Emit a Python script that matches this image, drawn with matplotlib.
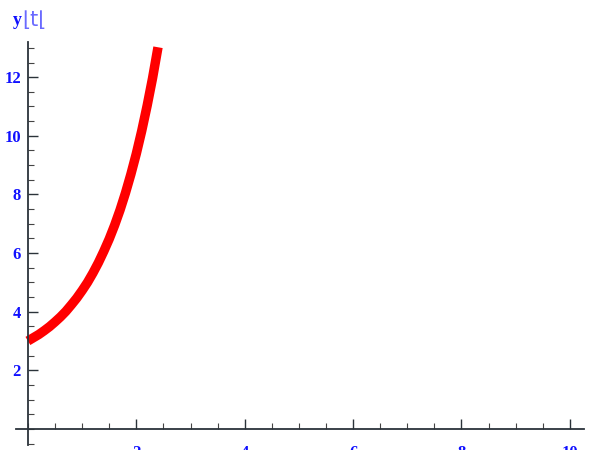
import matplotlib
matplotlib.use('Agg')
import matplotlib.pyplot as plt
from matplotlib.ticker import MultipleLocator, FixedLocator

# y[t] sampled along the solution, t = 0 .. 2.4
T_VALUES = [0.0, 0.1, 0.2, 0.3, 0.4, 0.5, 0.6, 0.7, 0.8, 0.9, 1.0, 1.1, 1.2,
            1.3, 1.4, 1.5, 1.6, 1.7, 1.8, 1.9, 2.0, 2.1, 2.2, 2.3, 2.4]
Y_VALUES = [3.00, 3.11, 3.22, 3.35, 3.49, 3.65, 3.82, 4.01, 4.23, 4.46, 4.72,
            5.00, 5.32, 5.67, 6.06, 6.48, 6.95, 7.47, 8.05, 8.69, 9.39, 10.17,
            11.03, 11.97, 13.02]
X_TICKS = [2, 4, 6, 8, 10]
Y_TICKS = [2, 4, 6, 8, 10, 12]

BLUE = '#1010ff'
AXIS = '#2b333a'

fig = plt.figure(figsize=(5.97, 4.5), dpi=100)
ax = fig.add_axes([0.0268, 0.0111, 0.9514, 0.8956])

ax.plot(T_VALUES, Y_VALUES, color='#ff0000', lw=6.8, solid_capstyle='butt')

ax.set_xlim(-0.22, 10.26)
ax.set_ylim(-0.55, 13.2)

# axes cross at the origin, no frame
for side in ('top', 'right'):
    ax.spines[side].set_visible(False)
ax.spines['left'].set_position(('data', 0))
ax.spines['bottom'].set_position(('data', 0))
for side in ('left', 'bottom'):
    ax.spines[side].set_color(AXIS)
    ax.spines[side].set_linewidth(1.3)

ax.xaxis.set_major_locator(FixedLocator(X_TICKS))
ax.yaxis.set_major_locator(FixedLocator(Y_TICKS))
ax.xaxis.set_minor_locator(MultipleLocator(0.5))
ax.yaxis.set_minor_locator(MultipleLocator(0.5))

ax.tick_params(axis='both', which='major', direction='in', length=7, width=1.0,
               color=AXIS, labelcolor=BLUE)
ax.tick_params(axis='both', which='minor', direction='in', length=4, width=0.8,
               color='#444444')
ax.tick_params(axis='x', which='major', pad=11.5)
ax.tick_params(axis='y', which='major', pad=5)

for lab in ax.get_xticklabels() + ax.get_yticklabels():
    lab.set_fontfamily('Liberation Serif')
    lab.set_fontweight('bold')
    lab.set_fontsize(12)

# axis label at the top of the y axis
fig.text(13 / 597, 1 - 25 / 450, 'y', color=BLUE, fontsize=13,
         fontfamily='Liberation Serif', fontweight='bold', va='baseline')
fig.text(22 / 597, 1 - 26 / 450, '⌊t⌊', color='#6a6aff', fontsize=15,
         fontfamily='DejaVu Sans', va='baseline')

fig.savefig('out.png', dpi=100)
